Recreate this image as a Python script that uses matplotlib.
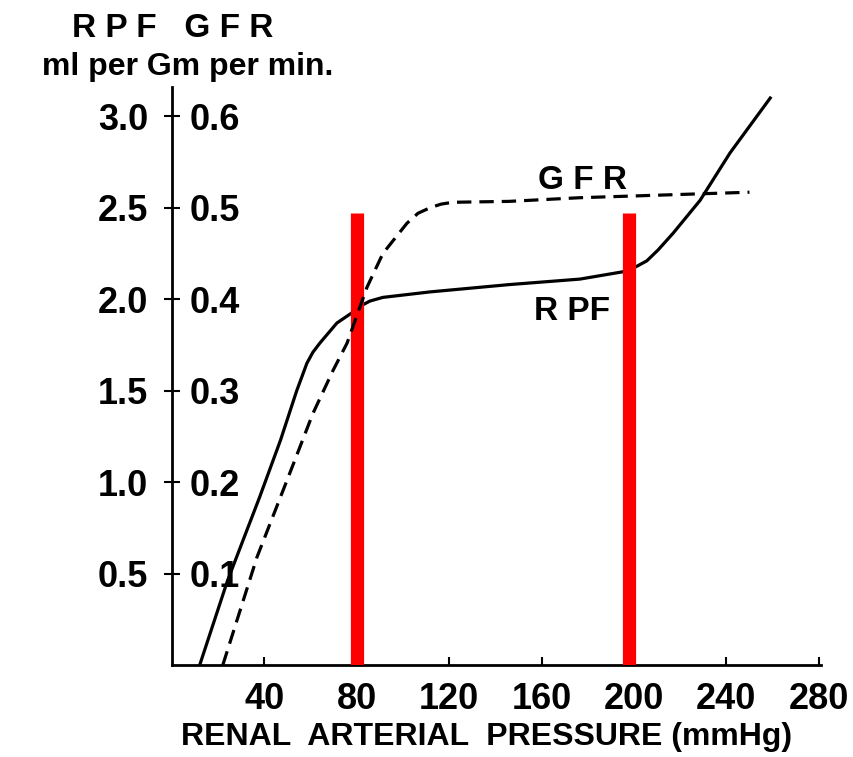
import matplotlib.pyplot as plt

# Renal autoregulation curves
rpf_pressure = [12, 24, 38, 47, 54, 56.5, 58.4, 61, 64, 71.4, 78.4, 82.7, 85.7, 91.3, 111.7, 146,
                176.6, 195.2, 200.5, 205.6, 210.5, 216.9, 228.6, 241.6, 259]
rpf_values = [0, 0.46, 0.92, 1.23, 1.50, 1.585, 1.65, 1.71, 1.76, 1.87, 1.93, 1.97, 1.99, 2.01,
              2.04, 2.08, 2.11, 2.15, 2.175, 2.21, 2.27, 2.36, 2.54, 2.80, 3.10]

gfr_pressure = [22, 36.8, 49.8, 61, 69.7, 75.8, 84.4, 91.3, 101.7, 106.5, 111.7, 116.5, 121.6,
                146, 176.6, 250]
gfr_values = [0, 0.118, 0.202, 0.275, 0.322, 0.352, 0.413, 0.45, 0.483, 0.494, 0.50, 0.504,
              0.506, 0.507, 0.511, 0.517]

# autoregulation range markers
marker_pressures = [80, 198]
marker_top = 2.47

x_ticks = [40, 80, 120, 160, 200, 240, 280]
rpf_ticks = [0.5, 1.0, 1.5, 2.0, 2.5, 3.0]
rpf_tick_labels = ['0.5', '1.0', '1.5', '2.0', '2.5', '3.0']
gfr_ticks = [0.1, 0.2, 0.3, 0.4, 0.5, 0.6]
gfr_tick_labels = ['0.1', '0.2', '0.3', '0.4', '0.5', '0.6']

plt.rcParams['font.family'] = 'Liberation Sans'
plt.rcParams['font.weight'] = 'bold'
plt.rcParams['axes.labelweight'] = 'bold'

fig = plt.figure(figsize=(8.54, 7.57), dpi=100)
ax = fig.add_axes([0.2014, 0.1215, 0.76, 0.7635])

ax.plot(rpf_pressure, rpf_values, color='black', lw=2.3, solid_joinstyle='round')

ax.set_xlim(0, 281)
ax.set_ylim(0, 3.16)

for p in marker_pressures:
    ax.vlines(p, 0, marker_top, color='#ff0000', lw=9.5, zorder=5)

# spines
for s in ['top', 'right']:
    ax.spines[s].set_visible(False)
for s in ['left', 'bottom']:
    ax.spines[s].set_linewidth(2.0)

ax.set_xticks(x_ticks)
ax.set_xticklabels([str(t) for t in x_ticks], fontsize=26)
ax.tick_params(axis='x', direction='in', length=6, width=1.5, pad=12)
ax.set_yticks(rpf_ticks)
ax.set_yticklabels(rpf_tick_labels, fontsize=26)
ax.tick_params(axis='y', direction='inout', length=12, width=1.5, pad=11)

ax.set_xlabel('RENAL  ARTERIAL  PRESSURE (mmHg)', fontsize=23)
ax.xaxis.set_label_coords(0.485, -0.098)

# GFR on its own scale, labels to the right of the same spine
ax2 = ax.twinx()
ax2.set_ylim(0, 3.16 / 5)
ax2.plot(gfr_pressure, gfr_values, color='black', lw=2.3, dashes=(4.5, 2.5))
for s in ['top', 'left', 'bottom']:
    ax2.spines[s].set_visible(False)
ax2.spines['right'].set_position(('axes', 0))
ax2.spines['right'].set_color('none')
ax2.set_yticks(gfr_ticks)
ax2.set_yticklabels(gfr_tick_labels, fontsize=26)
ax2.tick_params(axis='y', length=0, pad=13)

# curve labels
ax.text(0.633, 0.839, 'G F R', transform=ax.transAxes, fontsize=24,
        ha='center', va='center')
ax.text(0.616, 0.611, 'R PF', transform=ax.transAxes, fontsize=24,
        ha='center', va='center')

# axis header
fig.text(0.2026, 0.963, 'R P F   G F R', fontsize=24,
         ha='center', va='center')
fig.text(0.220, 0.912, 'ml per Gm per min.', fontsize=23,
         ha='center', va='center')

plt.savefig('out.png', dpi=100, facecolor='white')
